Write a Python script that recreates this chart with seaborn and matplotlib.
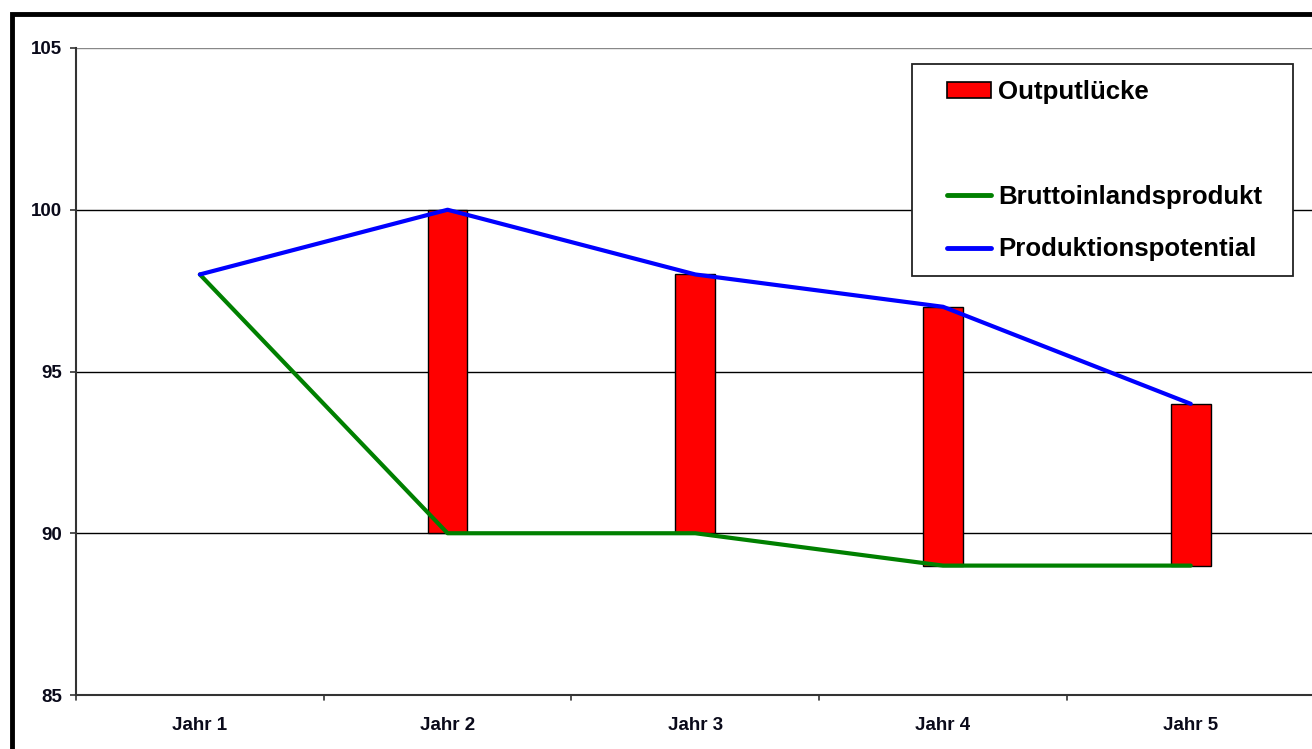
import numpy as np
import pandas as pd
import matplotlib
matplotlib.use("Agg")
import matplotlib.pyplot as plt
import matplotlib.patches as mpatches
from matplotlib.lines import Line2D
import seaborn as sns

years = ["Jahr 1", "Jahr 2", "Jahr 3", "Jahr 4", "Jahr 5"]
bip = [98, 90, 90, 89, 89]
potential = [98, 100, 98, 97, 94]
gap = [p - b for p, b in zip(potential, bip)]
yticks = [85, 90, 95, 100, 105]

sns.set_theme(style="white")
plt.rcParams['font.family'] = ['Liberation Sans', 'DejaVu Sans']
plt.rcParams['font.weight'] = 'bold'
plt.rcParams['text.color'] = 'black'

W, H = 1312, 749
fig = plt.figure(figsize=(W/100, H/100), dpi=100)
ax = fig.add_axes([76/W, 1-695/H, 1.0-76/W+0.002, (695-48)/H])

df = pd.DataFrame({"Jahr": years, "gap": gap, "bip": bip})
sns.barplot(data=df, x="Jahr", y="gap", bottom=df["bip"].values, color="#ff0000",
            saturation=1, width=0.16, edgecolor="black", linewidth=1.0, ax=ax, zorder=3)
for p in ax.patches:
    if p.get_height() == 0:
        p.set_visible(False)

xpos = np.arange(len(years))
sns.lineplot(x=xpos, y=bip, color="#008000", linewidth=3.0, ax=ax, zorder=4)
sns.lineplot(x=xpos, y=potential, color="#0000ff", linewidth=3.0, ax=ax, zorder=5)

ax.set_xlim(-0.5, len(years) - 0.5)
ax.set_ylim(85, 105)
ax.set_yticks(yticks)
ax.set_yticklabels([str(t) for t in yticks], fontsize=13.5, fontweight='bold', color='#0a0a1a')
ax.set_xticks(xpos)
ax.set_xticklabels(years, fontsize=13.5, fontweight='bold', color='#0a0a1a')
ax.tick_params(axis='x', length=0, pad=16)
ax.tick_params(axis='y', length=4.3, width=1.2, color='#333333', direction='out', pad=5.8, left=True)
for b in np.arange(-0.5, len(years), 1.0):
    ax.plot([b, b], [85, 84.83], color='#333333', lw=1.2, clip_on=False)
for t in yticks[1:]:
    ax.axhline(t, color='black' if t < 105 else '#888888', lw=1.0, zorder=1)
ax.set_xlabel("")
ax.set_ylabel("")
for s in ["top", "right"]:
    ax.spines[s].set_visible(False)
for s in ["left", "bottom"]:
    ax.spines[s].set_color('#333333')
    ax.spines[s].set_linewidth(1.5)

# outer frame
frame = mpatches.Rectangle((12/W, -0.2), 1.5, 0.2 + 1 - 14/H, transform=fig.transFigure,
                           fill=False, edgecolor='black', linewidth=3.5, zorder=10)
fig.patches.append(frame)

# legend box
lbox = mpatches.Rectangle((912/W, 1-276/H), (1293-912)/W, (276-64)/H, transform=fig.transFigure,
                          facecolor='white', edgecolor='#222222', linewidth=1.3, zorder=20)
fig.patches.append(lbox)

handles = [mpatches.Patch(facecolor='#ff0000', edgecolor='black', linewidth=1.2),
           mpatches.Patch(facecolor='none', edgecolor='none'),
           Line2D([], [], color='#008000', lw=3.5),
           Line2D([], [], color='#0000ff', lw=3.5)]
labels = ["Outputlücke", " ", "Bruttoinlandsprodukt", "Produktionspotential"]
leg = fig.legend(handles, labels, loc='upper left', bbox_to_anchor=(947/W, 1-80/H),
                 frameon=False, prop={'size': 18.6, 'weight': 'bold'},
                 handlelength=1.72, handleheight=0.62, labelcolor='black',
                 handletextpad=0.25, borderpad=0, labelspacing=1.1, borderaxespad=0)
leg.set_zorder(30)

fig.savefig("out.png", dpi=100)
